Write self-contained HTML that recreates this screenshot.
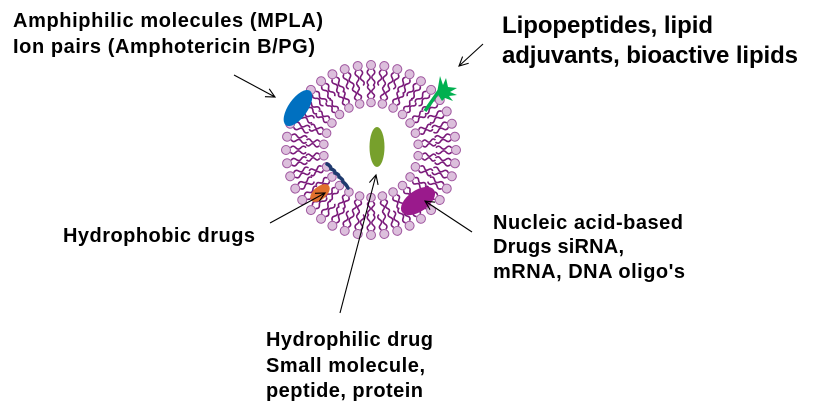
<!DOCTYPE html>
<html><head><meta charset="utf-8"><style>
html,body{margin:0;padding:0;background:#fff;}
svg{display:block;}
text{font-family:"Liberation Sans",Arial,sans-serif;font-weight:bold;fill:#000;}
</style></head><body>
<svg width="827" height="414" viewBox="0 0 827 414" xmlns="http://www.w3.org/2000/svg">
<defs>
<g id="o">
<path d="M-2.3,-80.5 q-3,2.6 0,5.2 t0,5.2 t0,5.2" fill="none" stroke="#7a1a7a" stroke-width="1.6"/>
<path d="M2.3,-80.5 q3,2.6 0,5.2 t0,5.2 t0,5.2" fill="none" stroke="#7a1a7a" stroke-width="1.6"/>
<circle cx="0" cy="-85" r="4.5" fill="#dcbfdc" stroke="#a058a0" stroke-width="1"/>
</g>
<g id="i">
<path d="M-2.1,-52 q-2.8,-2.2 0,-4.4 t0,-4.4 t0,-4.4" fill="none" stroke="#7a1a7a" stroke-width="1.6"/>
<path d="M2.1,-52 q2.8,-2.2 0,-4.4 t0,-4.4 t0,-4.4" fill="none" stroke="#7a1a7a" stroke-width="1.6"/>
<circle cx="0" cy="-47.5" r="4.3" fill="#dcbfdc" stroke="#a058a0" stroke-width="1"/>
</g>
<marker id="ah" markerUnits="userSpaceOnUse" markerWidth="14" markerHeight="14" refX="10" refY="5" orient="auto">
<path d="M1,0.5 L10,5 L1,9.5" fill="none" stroke="#000" stroke-width="1.1"/>
</marker>
</defs>
<rect width="827" height="414" fill="#fff"/>
<g transform="translate(371,150)">
<use href="#o"/><use href="#o" transform="rotate(9)"/><use href="#o" transform="rotate(18)"/><use href="#o" transform="rotate(27)"/><use href="#o" transform="rotate(36)"/>
<use href="#o" transform="rotate(45)"/><use href="#o" transform="rotate(54)"/><use href="#o" transform="rotate(63)"/><use href="#o" transform="rotate(72)"/><use href="#o" transform="rotate(81)"/>
<use href="#o" transform="rotate(90)"/><use href="#o" transform="rotate(99)"/><use href="#o" transform="rotate(108)"/><use href="#o" transform="rotate(117)"/><use href="#o" transform="rotate(126)"/>
<use href="#o" transform="rotate(135)"/><use href="#o" transform="rotate(144)"/><use href="#o" transform="rotate(153)"/><use href="#o" transform="rotate(162)"/><use href="#o" transform="rotate(171)"/>
<use href="#o" transform="rotate(180)"/><use href="#o" transform="rotate(189)"/><use href="#o" transform="rotate(198)"/><use href="#o" transform="rotate(207)"/><use href="#o" transform="rotate(216)"/>
<use href="#o" transform="rotate(225)"/><use href="#o" transform="rotate(234)"/><use href="#o" transform="rotate(243)"/><use href="#o" transform="rotate(252)"/><use href="#o" transform="rotate(261)"/>
<use href="#o" transform="rotate(270)"/><use href="#o" transform="rotate(279)"/><use href="#o" transform="rotate(288)"/><use href="#o" transform="rotate(297)"/><use href="#o" transform="rotate(306)"/>
<use href="#o" transform="rotate(315)"/><use href="#o" transform="rotate(324)"/><use href="#o" transform="rotate(333)"/><use href="#o" transform="rotate(342)"/><use href="#o" transform="rotate(351)"/>
<use href="#i"/><use href="#i" transform="rotate(13.85)"/><use href="#i" transform="rotate(27.69)"/><use href="#i" transform="rotate(41.54)"/><use href="#i" transform="rotate(55.38)"/>
<use href="#i" transform="rotate(69.23)"/><use href="#i" transform="rotate(83.08)"/><use href="#i" transform="rotate(96.92)"/><use href="#i" transform="rotate(110.77)"/><use href="#i" transform="rotate(124.62)"/>
<use href="#i" transform="rotate(138.46)"/><use href="#i" transform="rotate(152.31)"/><use href="#i" transform="rotate(166.15)"/><use href="#i" transform="rotate(180)"/><use href="#i" transform="rotate(193.85)"/>
<use href="#i" transform="rotate(207.69)"/><use href="#i" transform="rotate(221.54)"/><use href="#i" transform="rotate(235.38)"/><use href="#i" transform="rotate(249.23)"/><use href="#i" transform="rotate(263.08)"/>
<use href="#i" transform="rotate(276.92)"/><use href="#i" transform="rotate(290.77)"/><use href="#i" transform="rotate(304.62)"/><use href="#i" transform="rotate(318.46)"/><use href="#i" transform="rotate(332.31)"/>
<use href="#i" transform="rotate(346.15)"/>
</g>
<ellipse cx="298" cy="108" rx="21" ry="9.5" fill="#0070c0" transform="rotate(-55 298 108)"/>
<ellipse cx="377" cy="147" rx="7.5" ry="20" fill="#77a02c"/>
<ellipse cx="320" cy="193" rx="11.5" ry="6.5" fill="#e0702e" transform="rotate(-40 320 193)"/>
<ellipse cx="418" cy="201" rx="19.5" ry="10.5" fill="#9a1a8c" transform="rotate(-35 418 201)"/>
<path d="M327,164 Q331,166 331,169 Q335,170 335,173 Q339,174 339,177 Q343,179 343,182 Q346,184 348,188" fill="none" stroke="#1f3a6e" stroke-width="3.5" stroke-linecap="round"/>
<path d="M425,111 L441,88" fill="none" stroke="#00b050" stroke-width="3.5"/>
<polygon points="437,93 440,76 443,85 446,78 448,87 457,88 450,92 457,95 449,96 453,101 445,98 442,101" fill="#00b050"/>
<g stroke="#000" stroke-width="1.1" fill="none">
<line x1="234" y1="75" x2="275" y2="97" marker-end="url(#ah)"/>
<line x1="483" y1="44" x2="459" y2="66" marker-end="url(#ah)"/>
<line x1="270" y1="223" x2="325" y2="193" marker-end="url(#ah)"/>
<line x1="340" y1="313" x2="376" y2="175" marker-end="url(#ah)"/>
<line x1="472" y1="232" x2="425" y2="201" marker-end="url(#ah)"/>
</g>
<text x="13" y="27" font-size="20" textLength="310" lengthAdjust="spacing">Amphiphilic molecules (MPLA)</text>
<text x="13" y="53" font-size="20" textLength="302" lengthAdjust="spacing">Ion pairs (Amphotericin B/PG)</text>
<text x="502" y="33" font-size="24" textLength="211" lengthAdjust="spacing">Lipopeptides, lipid</text>
<text x="502" y="63" font-size="24" textLength="296" lengthAdjust="spacing">adjuvants, bioactive lipids</text>
<text x="63" y="242" font-size="20" textLength="192" lengthAdjust="spacing">Hydrophobic drugs</text>
<text x="493" y="229" font-size="20" textLength="190" lengthAdjust="spacing">Nucleic acid-based</text>
<text x="493" y="253" font-size="20" textLength="131" lengthAdjust="spacing">Drugs siRNA,</text>
<text x="493" y="278" font-size="20" textLength="192" lengthAdjust="spacing">mRNA, DNA oligo's</text>
<text x="266" y="346" font-size="20" textLength="167" lengthAdjust="spacing">Hydrophilic drug</text>
<text x="266" y="372" font-size="20" textLength="159" lengthAdjust="spacing">Small molecule,</text>
<text x="266" y="397" font-size="20" textLength="157" lengthAdjust="spacing">peptide, protein</text>
</svg>
</body></html>
